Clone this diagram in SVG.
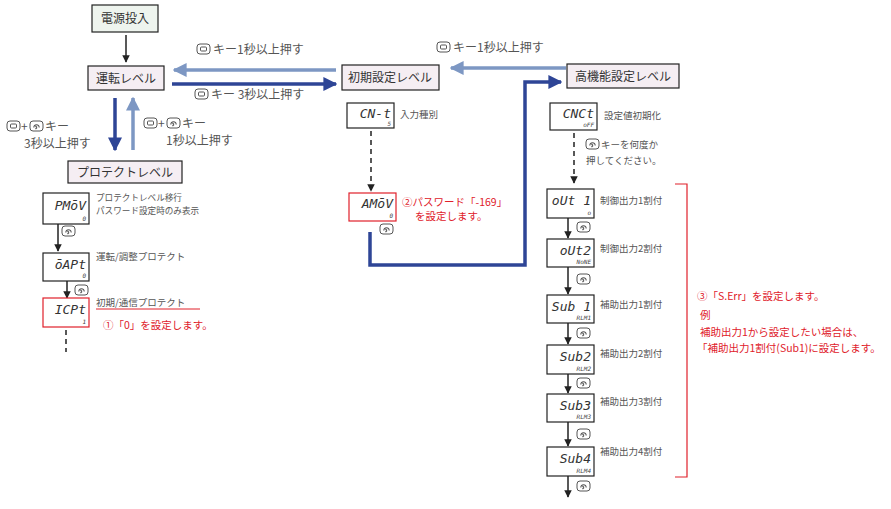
<svg xmlns="http://www.w3.org/2000/svg" width="891" height="509" viewBox="0 0 891 509">
<style>
text{font-family:"Noto Sans CJK JP","Liberation Sans",sans-serif;fill:#333}
.lv{fill:#f5eef3;stroke:#222;stroke-width:1.2}
.lb{font-size:12px}
.kl{font-size:12px;fill:#555}
.sm{font-size:9.5px;fill:#555}
.xs{font-size:8.6px;fill:#555}
.red{fill:#e0202a;font-size:10.5px}
.disp{fill:#fff;stroke:#222;stroke-width:1.2}
.dr{fill:#fff;stroke:#e0202a;stroke-width:1.2}
.seg{font-family:"DejaVu Sans Mono",monospace;font-style:italic;font-size:13px;fill:#333}
.sub{font-family:"DejaVu Sans Mono",monospace;font-style:italic;font-size:6px;fill:#444}
.dk{stroke:#2e4596;stroke-width:3.5;fill:none}
.lt{stroke:#7d97c3;stroke-width:3.5;fill:none}
.bk{stroke:#222;stroke-width:1.5;fill:none}
</style>
<defs>
<marker id="mdk" viewBox="0 0 10 10" refX="9" refY="5" markerWidth="4" markerHeight="4" orient="auto"><path d="M0,0L10,5L0,10z" fill="#2e4596"/></marker>
<marker id="mlt" viewBox="0 0 10 10" refX="9" refY="5" markerWidth="4" markerHeight="4" orient="auto"><path d="M0,0L10,5L0,10z" fill="#7d97c3"/></marker>
<marker id="mbk" viewBox="0 0 10 10" refX="9" refY="5" markerWidth="5" markerHeight="5" orient="auto"><path d="M0,0L10,5L0,10z" fill="#222"/></marker>
<g id="km"><rect x="0" y="0" width="13" height="10" rx="3" fill="#fff" stroke="#555"/><rect x="3.5" y="3" width="6" height="4" rx="1" fill="none" stroke="#555"/></g>
<g id="kr"><rect x="0" y="0" width="13" height="10" rx="3" fill="#fff" stroke="#555"/><path d="M4,6.5A2.6,2.2 0 1 1 9,6.5M7,6.5L5.5,8M7,6.5L5.5,5" fill="none" stroke="#555" stroke-width="1.1"/></g>
</defs>

<g id="connectors">
<line class="bk" x1="126" y1="35" x2="126" y2="62" stroke-width="2.5" marker-end="url(#mbk)"/>
<line class="lt" x1="336" y1="70" x2="174" y2="70" marker-end="url(#mlt)"/>
<line class="dk" x1="172" y1="84" x2="336" y2="84" marker-end="url(#mdk)"/>
<line class="lt" x1="566" y1="68" x2="451" y2="68" marker-end="url(#mlt)"/>
<polyline class="dk" points="370,232 370,265 525,265 525,82 561,82" marker-end="url(#mdk)"/>
<line class="dk" x1="115" y1="98" x2="115" y2="150" marker-end="url(#mdk)"/>
<line class="lt" x1="133" y1="150" x2="133" y2="98" marker-end="url(#mlt)"/>
<line class="bk" x1="58" y1="224" x2="58" y2="251" marker-end="url(#mbk)"/>
<line class="bk" x1="67" y1="281" x2="67" y2="298" marker-end="url(#mbk)"/>
<line class="bk" x1="66" y1="330" x2="66" y2="352" stroke-dasharray="5,4"/>
<line class="bk" x1="371" y1="131" x2="371" y2="191" stroke-dasharray="5,4" marker-end="url(#mbk)"/>
<line class="bk" x1="574" y1="133" x2="574" y2="183" stroke-dasharray="5,4" marker-end="url(#mbk)"/>
<line class="bk" x1="568" y1="218" x2="568" y2="238" marker-end="url(#mbk)"/>
<line class="bk" x1="568" y1="267" x2="568" y2="294" marker-end="url(#mbk)"/>
<line class="bk" x1="568" y1="323" x2="568" y2="344" marker-end="url(#mbk)"/>
<line class="bk" x1="568" y1="374" x2="568" y2="393" marker-end="url(#mbk)"/>
<line class="bk" x1="568" y1="422" x2="568" y2="446" marker-end="url(#mbk)"/>
<line class="bk" x1="568" y1="476" x2="568" y2="497" marker-end="url(#mbk)"/>
<polyline points="675,184 687,184 687,477 675,477" fill="none" stroke="#e0202a" stroke-width="1.2"/>
<line x1="96" y1="309" x2="200" y2="309" stroke="#e0202a" stroke-width="1"/>
</g>

<g id="keylabels">
<use href="#km" x="197" y="44"/><text class="kl" x="213" y="54">キー1秒以上押す</text>
<use href="#km" x="195" y="89"/><text class="kl" x="211" y="99">キー 3秒以上押す</text>
<use href="#km" x="437" y="42"/><text class="kl" x="453" y="52">キー1秒以上押す</text>
<use href="#km" x="7" y="121"/><text class="kl" x="21" y="131">+</text><use href="#kr" x="30" y="121"/><text class="kl" x="45" y="131">キー</text>
<text class="kl" x="24" y="148">3秒以上押す</text>
<use href="#km" x="144" y="118"/><text class="kl" x="158" y="128">+</text><use href="#kr" x="167" y="118"/><text class="kl" x="182" y="128">キー</text>
<text class="kl" x="166" y="145">1秒以上押す</text>
</g>

<g id="n-power"><rect x="92" y="5" width="66" height="27" fill="#eef4ee" stroke="#222" stroke-width="1.2"/><text class="lb" x="125" y="23" text-anchor="middle">電源投入</text></g>
<g id="n-run"><rect class="lv" x="88" y="66" width="76" height="24"/><text class="lb" x="126" y="83" text-anchor="middle">運転レベル</text></g>
<g id="n-init"><rect class="lv" x="342" y="65" width="97" height="25"/><text class="lb" x="390" y="82" text-anchor="middle">初期設定レベル</text></g>
<g id="n-adv"><rect class="lv" x="567" y="64" width="112" height="24"/><text class="lb" x="623" y="81" text-anchor="middle">高機能設定レベル</text></g>
<g id="n-prot"><rect class="lv" x="68" y="161" width="114" height="22"/><text class="lb" x="125" y="177" text-anchor="middle">プロテクトレベル</text></g>

<g id="d-pmov"><rect class="disp" x="43" y="193" width="46" height="31"/><text class="seg" x="86" y="210" text-anchor="end">PMōV</text><text class="sub" x="86" y="221" text-anchor="end">0</text>
<text class="xs" x="96" y="201">プロテクトレベル移行</text><text class="xs" x="96" y="214">パスワード設定時のみ表示</text><use href="#kr" x="62" y="226"/></g>
<g id="d-oapt"><rect class="disp" x="43" y="253" width="46" height="28"/><text class="seg" x="86" y="269" text-anchor="end">ōAPt</text><text class="sub" x="86" y="278" text-anchor="end">0</text>
<text class="sm" x="96" y="260">運転/調整プロテクト</text><use href="#kr" x="75" y="285"/></g>
<g id="d-icpt"><rect class="dr" x="43" y="298" width="46" height="29"/><text class="seg" x="86" y="314" text-anchor="end">ICPt</text><text class="sub" x="86" y="324" text-anchor="end">1</text>
<text class="sm" x="96" y="306">初期/通信プロテクト</text><text class="red" x="103" y="329">①「0」を設定します。</text></g>

<g id="d-cnt"><rect class="disp" x="347" y="103" width="47" height="25"/><text class="seg" x="391" y="118" text-anchor="end">CN-t</text><text class="sub" x="391" y="126" text-anchor="end">5</text><text class="sm" x="400" y="118">入力種別</text></g>
<g id="d-amov"><rect class="dr" x="349" y="193" width="47" height="28"/><text class="seg" x="393" y="208" text-anchor="end">AMōV</text><text class="sub" x="393" y="218" text-anchor="end">0</text>
<text class="red" x="402" y="206">②パスワード「-169」</text><text class="red" x="415" y="220">を設定します。</text><use href="#kr" x="380" y="224"/></g>

<g id="d-cnct"><rect class="disp" x="550" y="103" width="47" height="27"/><text class="seg" x="594" y="118" text-anchor="end">CNCt</text><text class="sub" x="594" y="127" text-anchor="end">oFF</text>
<text class="sm" x="604" y="119">設定値初期化</text><use href="#kr" x="586" y="139"/><text class="sm" x="601" y="148">キーを何度か</text><text class="sm" x="586" y="164">押してください。</text></g>
<g id="d-out1"><rect class="disp" x="547" y="189" width="47" height="29"/><text class="seg" x="591" y="205" text-anchor="end">oUt 1</text><text class="sub" x="591" y="215" text-anchor="end">o</text><text class="sm" x="600" y="204">制御出力1割付</text><use href="#kr" x="577" y="222"/></g>
<g id="d-out2"><rect class="disp" x="547" y="239" width="47" height="28"/><text class="seg" x="591" y="255" text-anchor="end">oUt2</text><text class="sub" x="591" y="264" text-anchor="end">NoNE</text><text class="sm" x="600" y="252">制御出力2割付</text><use href="#kr" x="577" y="274"/></g>
<g id="d-sub1"><rect class="disp" x="547" y="295" width="47" height="28"/><text class="seg" x="591" y="311" text-anchor="end">Sub 1</text><text class="sub" x="591" y="320" text-anchor="end">RLM1</text><text class="sm" x="600" y="308">補助出力1割付</text><use href="#kr" x="577" y="328"/></g>
<g id="d-sub2"><rect class="disp" x="547" y="345" width="47" height="29"/><text class="seg" x="591" y="361" text-anchor="end">Sub2</text><text class="sub" x="591" y="371" text-anchor="end">RLM2</text><text class="sm" x="600" y="357">補助出力2割付</text><use href="#kr" x="577" y="378"/></g>
<g id="d-sub3"><rect class="disp" x="547" y="394" width="47" height="28"/><text class="seg" x="591" y="410" text-anchor="end">Sub3</text><text class="sub" x="591" y="419" text-anchor="end">RLM3</text><text class="sm" x="600" y="405">補助出力3割付</text><use href="#kr" x="577" y="429"/></g>
<g id="d-sub4"><rect class="disp" x="547" y="447" width="47" height="29"/><text class="seg" x="591" y="463" text-anchor="end">Sub4</text><text class="sub" x="591" y="473" text-anchor="end">RLM4</text><text class="sm" x="600" y="455">補助出力4割付</text><use href="#kr" x="577" y="481"/></g>

<g id="note3">
<text class="red" x="697" y="300">③「S.Err」を設定します。</text>
<text class="red" x="700" y="319">例</text>
<text class="red" x="700" y="336">補助出力1から設定したい場合は、</text>
<text class="red" x="697" y="352">「補助出力1割付(Sub1)に設定します。</text>
</g>
</svg>
